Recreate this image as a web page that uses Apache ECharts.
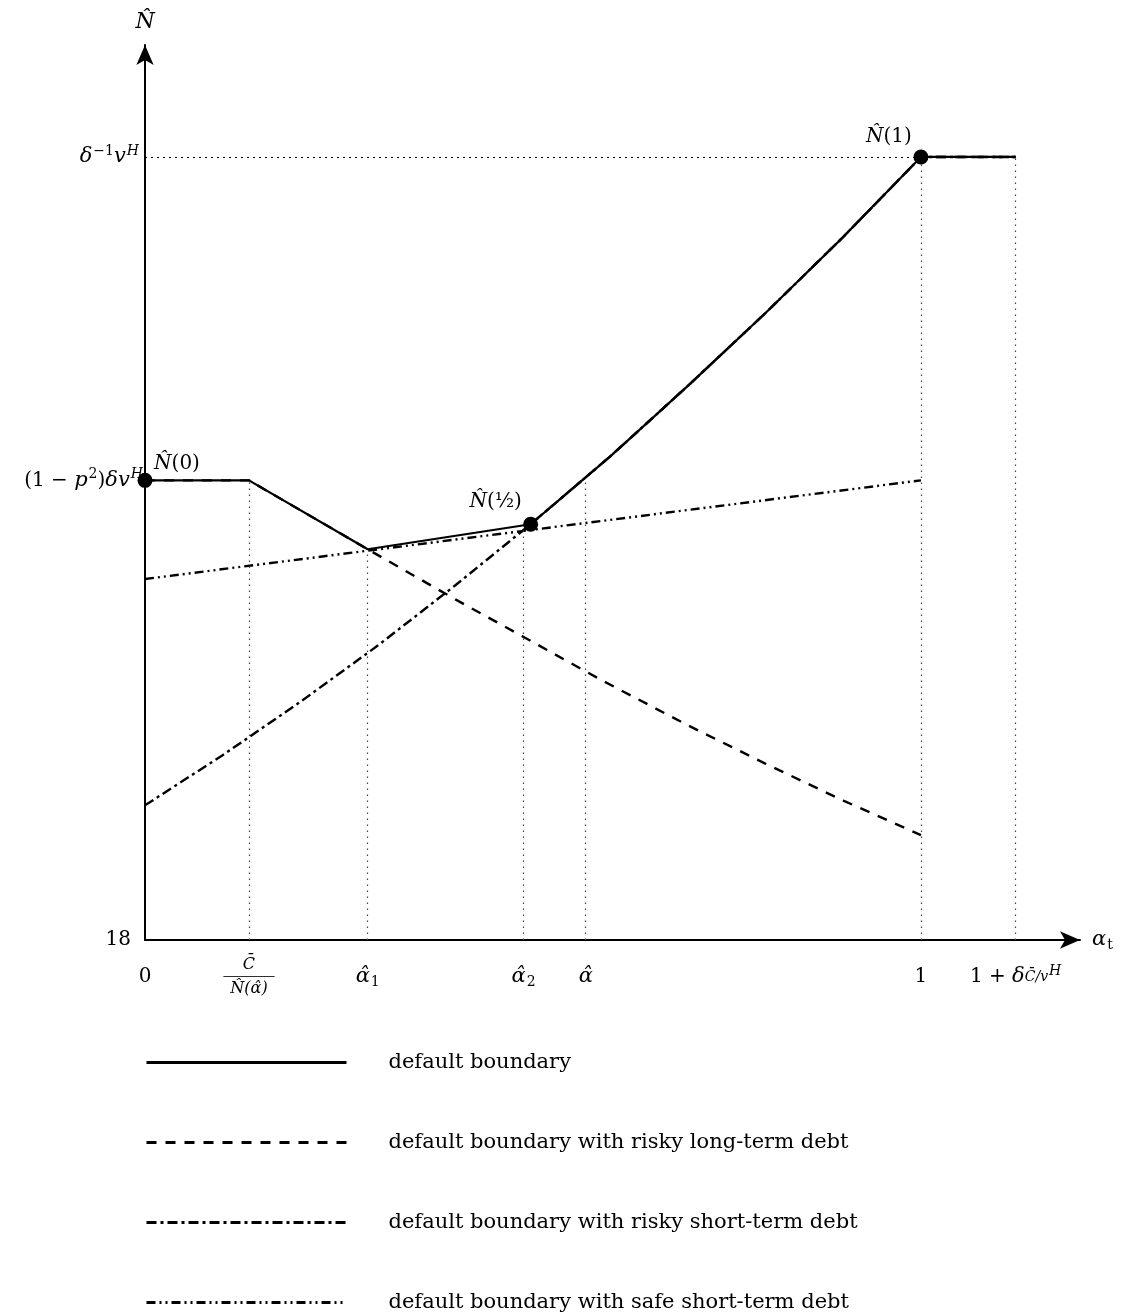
<!DOCTYPE html>
<html>
<head>
<meta charset="utf-8">
<script src="https://cdn.jsdelivr.net/npm/echarts@6/dist/echarts.min.js"></script>
<style>
  html, body { margin: 0; padding: 0; background: #fff; }
  #chart { width: 1126px; height: 1313px; }
</style>
</head>
<body>
<div id="chart"></div>
<script>
// tick positions on the alpha axis and their labels
var xTicks = [0, 0.134, 0.287, 0.488, 0.568, 1, 1.122]
var xTickLabels = ['0', '{n|C̄}\n{b|———}\n{d|N̂(α̂)}', '{m|α̂}{sub|1}', '{m|α̂}{sub|2}', '{m|α̂}', '1', '1 + {m|δ}{s|C̄/v}{supi|H}']
var yTicks = [0, 0.587, 1]
var yTickLabels = ['{o|18}', '(1 − {m|p}{sup|2}){m|δv}{supi|H}', '{m|δ}{sup|−1}{m|v}{supi|H}{pad|}']

// default boundary
var solidX = [0, 0.134, 0.287, 0.497, 0.6, 0.7, 0.8, 0.9, 1, 1.122]
var solidY = [0.587, 0.587, 0.499, 0.531, 0.618, 0.708, 0.801, 0.898, 1, 1]
// risky long-term debt
var longX = [0, 0.134, 0.287, 0.4, 0.488, 0.588, 0.7, 0.8, 0.9, 1]
var longY = [0.587, 0.587, 0.499, 0.435, 0.387, 0.332, 0.274, 0.225, 0.178, 0.134]
var longUpX = [0.497, 0.6, 0.7, 0.8, 0.9, 1, 1.122]
var longUpY = [0.531, 0.618, 0.708, 0.801, 0.898, 1, 1]
// risky short-term debt
var shortX = [0, 0.1, 0.2, 0.3, 0.4, 0.497, 0.6, 0.7, 0.8, 0.9, 1, 1.122]
var shortY = [0.172, 0.236, 0.304, 0.376, 0.453, 0.531, 0.618, 0.708, 0.801, 0.898, 1, 1]
// safe short-term debt
var safeX = [0, 1]
var safeY = [0.461, 0.587]
// marked points
var dotX = [0, 0.497, 1]
var dotY = [0.587, 0.531, 1]
var dotLabels = ['{m|N̂}(0)', '{m|N̂}(½)', '{m|N̂}(1)']
// dotted guide lines
var guideX = [0.134, 0.287, 0.488, 0.568, 1, 1.122]
var guideTop = [0.587, 0.499, 0.525, 0.589, 1, 1]

var names = [
  'default boundary',
  'default boundary with risky long-term debt',
  'default boundary with risky short-term debt',
  'default boundary with safe short-term debt'
]

var font = 'DejaVu Serif, Liberation Serif, serif'
var mathRich = {
  r: { fontFamily: font, fontSize: 20, color: '#000' },
  o: { fontFamily: font, fontSize: 20, padding: [0, 12, 0, 0], color: '#000' },
  m: { fontFamily: font, fontStyle: 'italic', fontSize: 21, color: '#000' },
  s: { fontFamily: font, fontStyle: 'italic', fontSize: 14, color: '#000' },
  sub: { fontFamily: font, fontSize: 14, padding: [10, 0, 0, 1], color: '#000' },
  sup: { fontFamily: font, fontSize: 14, padding: [0, 0, 12, 1], color: '#000' },
  supi: { fontFamily: font, fontStyle: 'italic', fontSize: 14, padding: [0, 0, 12, 1], color: '#000' },
  pad: { fontSize: 1, padding: [0, 4, 16, 0] },
  n: { fontFamily: font, fontStyle: 'italic', fontSize: 16, lineHeight: 19, color: '#000' },
  b: { fontFamily: 'Liberation Serif', fontSize: 17, lineHeight: 4, color: '#000' },
  d: { fontFamily: font, fontStyle: 'italic', fontSize: 16, lineHeight: 21, color: '#000' }
}

function zip(xs, ys) {
  return xs.map(function (x, i) { return [x, ys[i]] })
}

var black = { color: '#000' }
var dotted = { color: '#444', width: 1.2, type: [1.5, 4.5] }
var guideData = guideX.map(function (x, i) {
  return [{ coord: [x, 0] }, { coord: [x, guideTop[i]] }]
})
guideData.push([{ coord: [0, 1], lineStyle: { color: '#000', type: [2, 4] } }, { coord: [1, 1] }])

var chart = echarts.init(document.getElementById('chart'))
chart.setOption({
  animation: false,
  textStyle: { fontFamily: font },
  grid: { left: 145, right: 46, top: 45, bottom: 373 },
  legend: {
    data: names,
    orient: 'vertical',
    left: 145,
    top: 1052,
    height: 320,
    padding: 0,
    itemWidth: 200,
    itemHeight: 14,
    itemGap: 59,
    itemStyle: { opacity: 0 },
    lineStyle: { width: 3 },
    textStyle: { fontFamily: font, fontSize: 21, lineHeight: 16, color: '#000', padding: [0, 0, 0, 37] }
  },
  xAxis: {
    type: 'value',
    min: 0,
    max: 1.205,
    name: '{m|α}{sub|t}',
    nameLocation: 'end',
    nameGap: 12,
    nameTextStyle: { fontFamily: font, fontSize: 20, color: '#000', rich: mathRich },
    axisLine: { lineStyle: { color: '#000', width: 2 }, symbol: ['none', 'arrow'], symbolSize: [13, 20] },
    axisTick: { show: false },
    splitLine: { show: false },
    axisLabel: {
      customValues: xTicks,
      margin: 37,
      verticalAlign: 'middle',
      fontFamily: font,
      fontSize: 20,
      color: '#000',
      rich: mathRich,
      formatter: function (v) {
        var i = xTicks.indexOf(v)
        return i < 0 ? '' : xTickLabels[i]
      }
    }
  },
  yAxis: {
    type: 'value',
    min: 0,
    max: 1.143,
    name: 'N̂',
    nameLocation: 'end',
    nameGap: 12,
    nameTextStyle: { fontFamily: font, fontStyle: 'italic', fontSize: 22, color: '#000', align: 'center' },
    axisLine: { lineStyle: { color: '#000', width: 2 }, symbol: ['none', 'arrow'], symbolSize: [13, 20] },
    axisTick: { show: false },
    splitLine: { show: false },
    axisLabel: {
      customValues: yTicks,
      margin: 2,
      fontFamily: font,
      fontSize: 20,
      color: '#000',
      rich: mathRich,
      formatter: function (v) {
        var i = yTicks.indexOf(v)
        return i < 0 ? '' : yTickLabels[i]
      }
    }
  },
  series: [
    {
      name: names[3],
      type: 'line',
      symbol: 'none',
      data: zip(safeX, safeY),
      itemStyle: black,
      lineStyle: { color: '#000', width: 2.4, type: [9, 4, 2, 4, 2, 4] },
      markLine: {
        silent: true,
        symbol: 'none',
        label: { show: false },
        lineStyle: dotted,
        data: guideData
      }
    },
    {
      name: names[2],
      type: 'line',
      symbol: 'none',
      data: zip(shortX, shortY),
      itemStyle: black,
      lineStyle: { color: '#000', width: 2.4, type: [10, 4, 3, 4] }
    },
    {
      name: names[1],
      type: 'line',
      symbol: 'none',
      data: zip(longX, longY),
      itemStyle: black,
      lineStyle: { color: '#000', width: 2.4, type: [10, 9] }
    },
    {
      name: names[1],
      type: 'line',
      symbol: 'none',
      data: zip(longUpX, longUpY),
      itemStyle: black,
      lineStyle: { color: '#000', width: 2.4, type: [10, 9] }
    },
    {
      name: names[0],
      type: 'line',
      symbol: 'none',
      z: 5,
      data: zip(solidX, solidY),
      itemStyle: black,
      lineStyle: { color: '#000', width: 2.2 }
    },
    {
      type: 'scatter',
      z: 6,
      symbolSize: 15,
      itemStyle: { color: '#000', opacity: 1 },
      data: dotX.map(function (x, i) {
        var offs = [[32, 6], [-35, 0], [-32, 2]]
        return {
          value: [x, dotY[i]],
          label: {
            show: true,
            position: 'top',
            offset: offs[i],
            formatter: dotLabels[i],
            fontFamily: font,
            fontSize: 20,
            color: '#000',
            rich: { m: { fontFamily: font, fontStyle: 'italic', fontSize: 20, color: '#000' } }
          }
        }
      })
    }
  ]
})
</script>
</body>
</html>
